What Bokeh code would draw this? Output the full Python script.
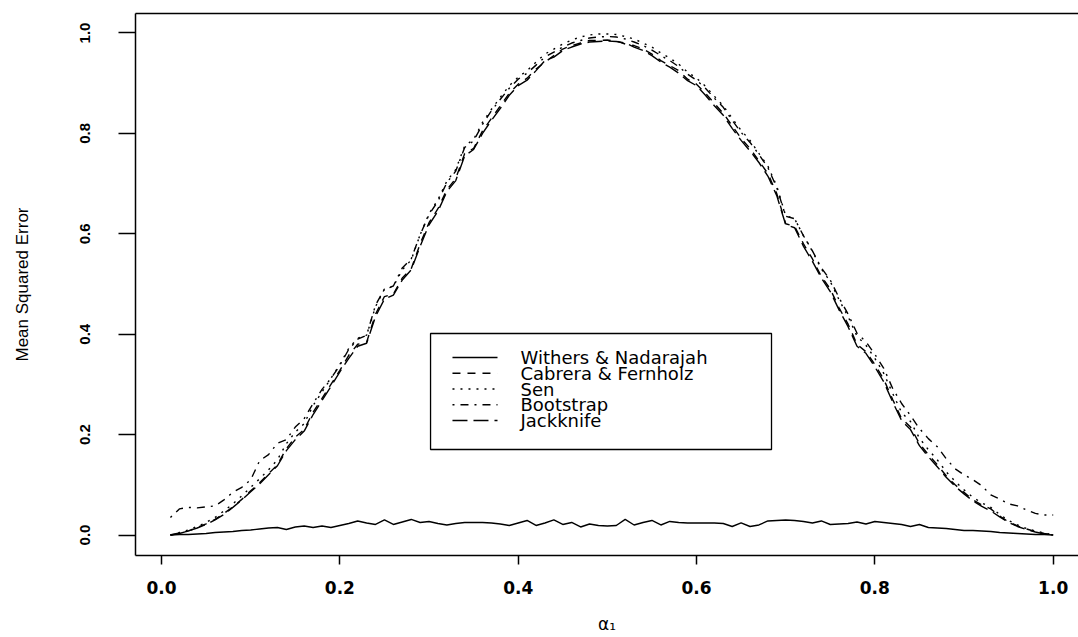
from bokeh.plotting import figure
from bokeh.models import Range1d, FixedTicker, PrintfTickFormatter, LinearAxis, BoxAnnotation
from bokeh.core.properties import value
from bokeh.embed import file_html
from bokeh.resources import INLINE

# ---------------- data ----------------
alpha1 = [0.01, 0.02, 0.03, 0.04, 0.05, 0.06, 0.07, 0.08, 0.09, 0.10,
          0.11, 0.12, 0.13, 0.14, 0.15, 0.16, 0.17, 0.18, 0.19, 0.20,
          0.21, 0.22, 0.23, 0.24, 0.25, 0.26, 0.27, 0.28, 0.29, 0.30,
          0.31, 0.32, 0.33, 0.34, 0.35, 0.36, 0.37, 0.38, 0.39, 0.40,
          0.41, 0.42, 0.43, 0.44, 0.45, 0.46, 0.47, 0.48, 0.49, 0.50,
          0.51, 0.52, 0.53, 0.54, 0.55, 0.56, 0.57, 0.58, 0.59, 0.60,
          0.61, 0.62, 0.63, 0.64, 0.65, 0.66, 0.67, 0.68, 0.69, 0.70,
          0.71, 0.72, 0.73, 0.74, 0.75, 0.76, 0.77, 0.78, 0.79, 0.80,
          0.81, 0.82, 0.83, 0.84, 0.85, 0.86, 0.87, 0.88, 0.89, 0.90,
          0.91, 0.92, 0.93, 0.94, 0.95, 0.96, 0.97, 0.98, 0.99, 1.00]

withers = [0.000, 0.001, 0.001, 0.002, 0.003, 0.005, 0.006, 0.007, 0.009, 0.010,
           0.012, 0.014, 0.015, 0.011, 0.016, 0.018, 0.015, 0.018, 0.015, 0.019,
           0.023, 0.028, 0.024, 0.021, 0.030, 0.021, 0.026, 0.031, 0.025, 0.027,
           0.023, 0.020, 0.023, 0.025, 0.025, 0.025, 0.024, 0.022, 0.019, 0.024,
           0.029, 0.019, 0.024, 0.030, 0.021, 0.025, 0.016, 0.022, 0.019, 0.018,
           0.019, 0.031, 0.020, 0.025, 0.029, 0.020, 0.027, 0.025, 0.024, 0.024,
           0.024, 0.024, 0.023, 0.017, 0.024, 0.017, 0.020, 0.028, 0.029, 0.030,
           0.029, 0.027, 0.024, 0.028, 0.021, 0.022, 0.023, 0.026, 0.022, 0.027,
           0.025, 0.023, 0.021, 0.017, 0.021, 0.015, 0.014, 0.013, 0.011, 0.009,
           0.009, 0.008, 0.007, 0.005, 0.004, 0.003, 0.002, 0.001, 0.001, 0.000]

cabrera = [0.000, 0.004, 0.008, 0.015, 0.022, 0.031, 0.043, 0.056, 0.071, 0.088,
           0.104, 0.122, 0.140, 0.172, 0.195, 0.210, 0.245, 0.272, 0.300, 0.328,
           0.358, 0.380, 0.384, 0.440, 0.475, 0.480, 0.512, 0.530, 0.580, 0.622,
           0.650, 0.688, 0.710, 0.760, 0.770, 0.805, 0.830, 0.855, 0.880, 0.898,
           0.910, 0.928, 0.942, 0.955, 0.968, 0.975, 0.980, 0.985, 0.985, 0.986,
           0.984, 0.978, 0.975, 0.968, 0.958, 0.945, 0.935, 0.925, 0.908, 0.898,
           0.880, 0.860, 0.840, 0.815, 0.790, 0.770, 0.745, 0.720, 0.680, 0.620,
           0.615, 0.580, 0.550, 0.515, 0.490, 0.452, 0.420, 0.380, 0.365, 0.340,
           0.310, 0.270, 0.232, 0.215, 0.182, 0.160, 0.140, 0.118, 0.100, 0.085,
           0.070, 0.060, 0.052, 0.038, 0.026, 0.018, 0.012, 0.007, 0.003, 0.000]

sen = [0.000, 0.005, 0.010, 0.017, 0.025, 0.035, 0.048, 0.062, 0.078, 0.095,
       0.112, 0.130, 0.150, 0.182, 0.205, 0.222, 0.258, 0.285, 0.312, 0.340,
       0.372, 0.392, 0.398, 0.455, 0.490, 0.495, 0.528, 0.548, 0.598, 0.640,
       0.668, 0.705, 0.728, 0.775, 0.788, 0.822, 0.848, 0.872, 0.895, 0.912,
       0.925, 0.942, 0.958, 0.968, 0.978, 0.986, 0.992, 0.996, 0.998, 0.998,
       0.997, 0.993, 0.988, 0.980, 0.972, 0.960, 0.950, 0.938, 0.922, 0.910,
       0.894, 0.874, 0.855, 0.830, 0.806, 0.786, 0.760, 0.735, 0.695, 0.636,
       0.630, 0.596, 0.565, 0.530, 0.505, 0.468, 0.435, 0.396, 0.378, 0.352,
       0.322, 0.282, 0.244, 0.226, 0.193, 0.170, 0.150, 0.126, 0.107, 0.090,
       0.075, 0.064, 0.055, 0.041, 0.029, 0.020, 0.013, 0.008, 0.004, 0.000]

bootstrap = [0.035, 0.052, 0.055, 0.054, 0.056, 0.058, 0.070, 0.085, 0.095, 0.110,
             0.148, 0.160, 0.183, 0.190, 0.215, 0.232, 0.262, 0.290, 0.312, 0.338,
             0.370, 0.390, 0.398, 0.458, 0.490, 0.496, 0.532, 0.550, 0.598, 0.638,
             0.665, 0.702, 0.725, 0.772, 0.785, 0.818, 0.845, 0.868, 0.890, 0.908,
             0.920, 0.936, 0.952, 0.962, 0.972, 0.980, 0.985, 0.990, 0.992, 0.993,
             0.992, 0.988, 0.982, 0.975, 0.966, 0.955, 0.945, 0.933, 0.918, 0.906,
             0.890, 0.870, 0.852, 0.826, 0.802, 0.782, 0.758, 0.732, 0.692, 0.635,
             0.630, 0.596, 0.566, 0.532, 0.508, 0.472, 0.440, 0.402, 0.385, 0.360,
             0.332, 0.292, 0.262, 0.238, 0.212, 0.192, 0.176, 0.152, 0.132, 0.120,
             0.110, 0.098, 0.080, 0.072, 0.062, 0.058, 0.050, 0.043, 0.040, 0.040]

jackknife = [0.000, 0.003, 0.008, 0.014, 0.021, 0.030, 0.041, 0.055, 0.070, 0.086,
             0.102, 0.120, 0.138, 0.168, 0.190, 0.207, 0.240, 0.268, 0.296, 0.325,
             0.352, 0.376, 0.382, 0.435, 0.470, 0.478, 0.508, 0.528, 0.575, 0.618,
             0.645, 0.684, 0.706, 0.755, 0.768, 0.800, 0.826, 0.850, 0.876, 0.895,
             0.906, 0.925, 0.945, 0.952, 0.965, 0.972, 0.978, 0.982, 0.983, 0.984,
             0.983, 0.980, 0.972, 0.965, 0.955, 0.942, 0.932, 0.920, 0.905, 0.895,
             0.876, 0.855, 0.836, 0.810, 0.786, 0.765, 0.742, 0.715, 0.676, 0.618,
             0.612, 0.575, 0.545, 0.512, 0.485, 0.448, 0.415, 0.376, 0.362, 0.335,
             0.305, 0.265, 0.228, 0.210, 0.178, 0.156, 0.136, 0.115, 0.097, 0.082,
             0.068, 0.057, 0.048, 0.036, 0.025, 0.017, 0.011, 0.006, 0.002, 0.000]

series_names = ["Withers & Nadarajah", "Cabrera & Fernholz", "Sen", "Bootstrap", "Jackknife"]
series_values = [withers, cabrera, sen, bootstrap, jackknife]
x_ticks = [0.0, 0.2, 0.4, 0.6, 0.8, 1.0]
y_ticks = [0.0, 0.2, 0.4, 0.6, 0.8, 1.0]
x_title = "α₁"
y_title = "Mean Squared Error"

# ---------------- styles ----------------
dashes = ["solid", "8 7", "2 6", "2 6 8 6", "15 6"]
LW = 1.4

p = figure(width=1078, height=637, output_backend="svg", toolbar_location=None,
           x_range=Range1d(-0.0292, 1.0284), y_range=Range1d(-0.0408, 1.0388),
           min_border_left=135, min_border_right=0, min_border_top=13, min_border_bottom=82)
p.outline_line_color = None
p.xgrid.visible = False
p.ygrid.visible = False
p.background_fill_color = "white"
p.border_fill_color = "white"

for vals, dash in zip(series_values, dashes):
    p.line(alpha1, vals, line_color="black", line_width=LW, line_dash=dash)

# x axis
xa = p.xaxis[0]
xa.ticker = FixedTicker(ticks=x_ticks)
xa.formatter = PrintfTickFormatter(format="%.1f")
xa.major_tick_in = 0
xa.major_tick_out = 9
xa.minor_tick_line_color = None
xa.axis_line_width = 1.5
xa.major_tick_line_width = 1.5
xa.major_label_standoff = 16
xa.major_label_text_font = "DejaVu Sans"
xa.major_label_text_font_style = "bold"
xa.major_label_text_font_size = "17px"
xa.major_label_text_color = "black"
xa.axis_label = x_title
xa.axis_label_text_font = "DejaVu Sans"
xa.axis_label_text_font_style = "normal"
xa.axis_label_text_font_size = "17px"
xa.axis_label_text_color = "black"
xa.axis_label_standoff = 17

# y axis
ya = p.yaxis[0]
ya.ticker = FixedTicker(ticks=y_ticks)
ya.formatter = PrintfTickFormatter(format="%.1f")
ya.major_tick_in = 0
ya.major_tick_out = 17
ya.minor_tick_line_color = None
ya.axis_line_width = 1.5
ya.major_tick_line_width = 1.5
ya.major_label_orientation = "vertical"
ya.major_label_standoff = 28
ya.major_label_text_font = "Liberation Sans"
ya.major_label_text_font_style = "bold"
ya.major_label_text_font_size = "15px"
ya.major_label_text_color = "black"
ya.axis_label = y_title
ya.axis_label_text_font = "Liberation Sans"
ya.axis_label_text_font_style = "normal"
ya.axis_label_text_font_size = "17px"
ya.axis_label_text_color = "black"
ya.axis_label_standoff = 46

# top border of the box
top = LinearAxis(ticker=FixedTicker(ticks=[]), major_tick_out=0, major_tick_in=0,
                 major_label_standoff=0, minor_tick_line_color=None,
                 major_label_text_font_size="0px", axis_line_width=1.5)
p.add_layout(top, "above")

# ---------------- legend (drawn by hand, R style) ----------------
leg_left, leg_right, leg_top, leg_bottom = 0.3017, 0.6841, 0.4014, 0.1703
row_y0, row_step = 0.3536, 0.0314
sample_x0, sample_x1, text_x = 0.3263, 0.3768, 0.4026

p.add_layout(BoxAnnotation(left=leg_left, right=leg_right, top=leg_top, bottom=leg_bottom,
                           fill_color="white", fill_alpha=1.0, line_color="black",
                           line_alpha=1.0, line_width=1.3, level="annotation"))
rows = [row_y0 - i * row_step for i in range(len(series_names))]
for yy, dash in zip(rows, dashes):
    r = p.segment(x0=[sample_x0], y0=[yy], x1=[sample_x1], y1=[yy],
                  line_color="black", line_width=LW, line_dash=dash)
    r.level = "overlay"
t = p.text(x=[text_x] * len(rows), y=rows, text=series_names,
           text_font=value("DejaVu Sans"), text_font_size="18px",
           text_baseline="middle", text_align="left", text_color="black")
t.level = "overlay"

open("out.html", "w").write(file_html(p, INLINE))
